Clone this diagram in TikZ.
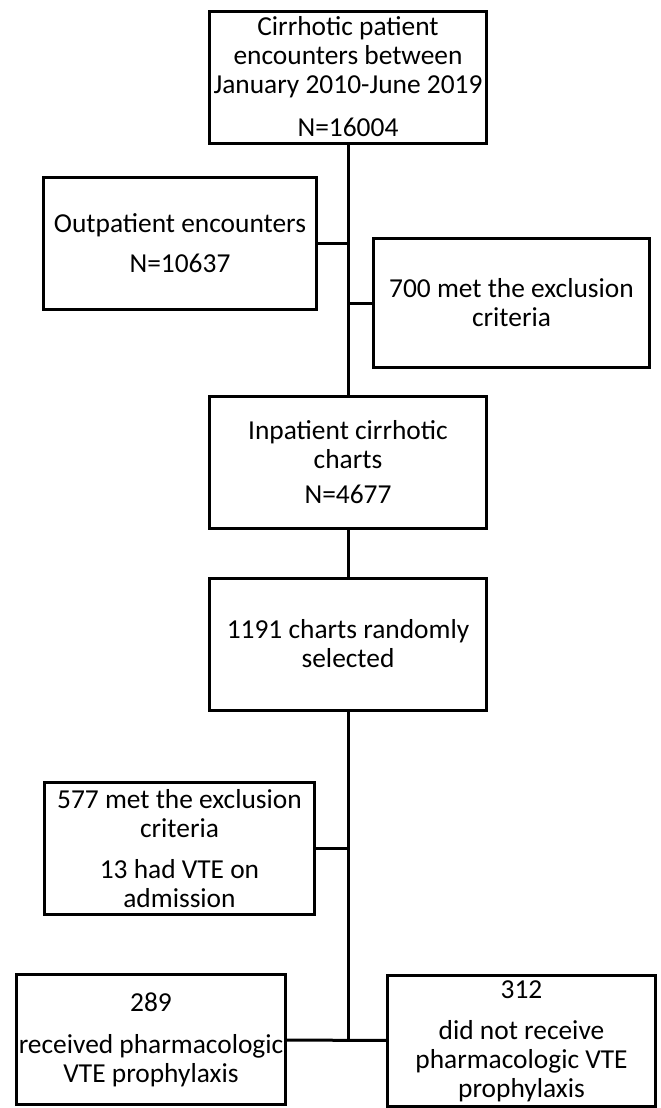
\documentclass[tikz,border=0pt]{standalone}
\usepackage{fontspec}
\setmainfont{Carlito}
\usetikzlibrary{positioning}

\begin{document}
\begin{tikzpicture}[
    node distance=2cm,
    box/.style={draw,line width=1.5pt,align=center,font=\fontsize{13.7}{14.5}\selectfont,
        minimum width=138.5pt,minimum height=66pt,inner sep=1pt},
    link/.style={line width=1.5pt}
]
\useasboundingbox (0,0) rectangle (330pt,-554pt);

% main column
\node[box] (enc) at (174pt,-38.5pt) {Cirrhotic patient\\encounters between\\January 2010-June 2019\\[7pt]N=16004};
\node[box,below=125pt of enc] (inpat) {Inpatient cirrhotic\\charts\\[3pt]N=4677};
\node[box,below=23.5pt of inpat] (sel) {1191 charts randomly\\selected};

% side boxes
\node[box,minimum width=136.5pt] (outpat) at (90pt,-121.75pt) {Outpatient encounters\\[5.5pt]N=10637};
\node[box,minimum width=138pt,minimum height=64.5pt] (excl1) at (255.75pt,-151.5pt) {700 met the exclusion\\criteria};
\node[box,minimum width=135pt] (excl2) at (89.75pt,-424.25pt) {577 met the exclusion\\criteria\\[6pt]13 had VTE on\\admission};

% outcome boxes
\node[box,minimum width=134.5pt,minimum height=65pt] (recv) at (75.5pt,-519.75pt) {289\\[6.5pt]received pharmacologic\\VTE prophylaxis};
\node[box,minimum width=134pt,minimum height=65.5pt] (norecv) at (260.75pt,-520.5pt) {312\\[6pt]did not receive\\pharmacologic VTE\\prophylaxis};

\draw[link] (enc) -- (inpat);
\draw[link] (inpat) -- (sel);
\draw[link] (outpat) -- (outpat -| enc);
\draw[link] (excl1) -- (excl1 -| enc);
\draw[link] (sel) -- (sel |- recv);
\draw[link] (excl2) -- (excl2 -| sel);
\draw[link] (recv) -- (norecv);
\end{tikzpicture}
\end{document}
